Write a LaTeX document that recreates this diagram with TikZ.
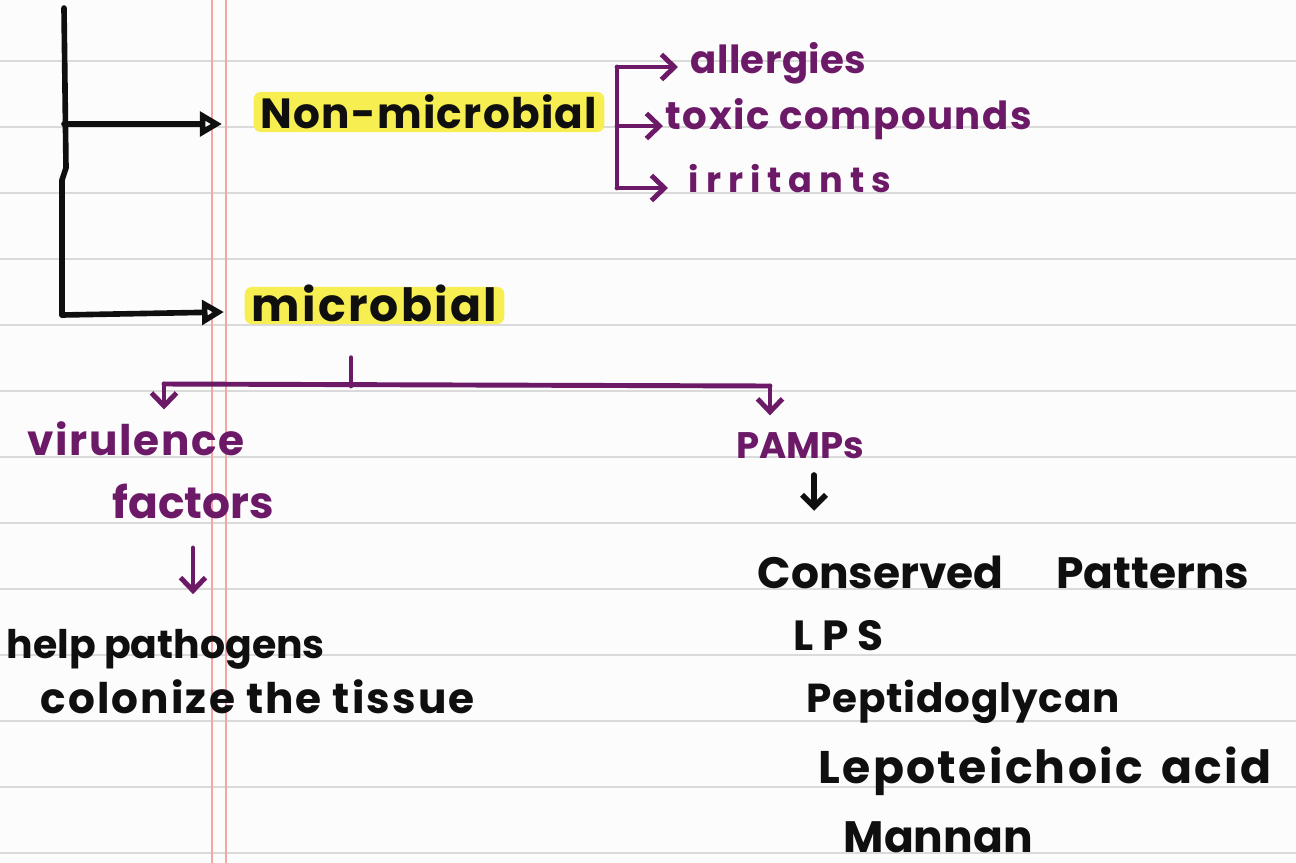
\documentclass[tikz,border=0pt]{standalone}
\usepackage{fontspec}
\setmainfont{Poppins}
\usetikzlibrary{arrows.meta}
\definecolor{ink}{RGB}{15,15,15}
\definecolor{plum}{RGB}{108,26,104}
\definecolor{marker}{RGB}{247,238,82}
\definecolor{ruling}{RGB}{218,218,218}
\definecolor{margin}{RGB}{246,165,165}
\definecolor{paper}{RGB}{252,252,252}
\newcommand{\hand}[2][0]{\fontsize{#2}{#2}\selectfont\bfseries\addfontfeature{LetterSpace=#1}}
\tikzset{
  word/.style    = {anchor=base west, inner sep=0pt, text=ink},
  pword/.style   = {word, text=plum},
  hl/.style      = {word, fill=marker, rounded corners=2pt, inner xsep=0.07cm, inner ysep=0pt},
  bline/.style   = {draw=ink, line width=1.6pt, line cap=round, line join=round},
  pline/.style   = {draw=plum, line width=1.4pt, line cap=round, line join=round},
  bsig/.style    = {bline, -{Triangle[open, length=0.22cm, width=0.24cm]}},
  bsig2/.style   = {bline, -{Straight Barb[length=0.12cm, width=0.24cm]}},
  psig/.style    = {pline, -{Straight Barb[length=0.13cm, width=0.25cm]}},
}
\begin{document}
\begin{tikzpicture}[x=0.01cm,y=-0.01cm]
\fill[paper] (0,0) rectangle (1296,863);
\useasboundingbox (0,0) rectangle (1296,863);
\foreach \k in {0,...,12}
  \draw[ruling, line width=0.8pt] (0,{61+66*\k}) -- (1296,{61+66*\k});
\draw[margin, line width=0.5pt] (212,0) -- (212,863);
\draw[margin, line width=0.5pt] (226,0) -- (226,863);

\node[hl, text height=0.36cm, text depth=0.04cm, font={\hand[3]{12}}] (nonmic) at (253,128) {Non-microbial};
\node[hl, text height=0.34cm, text depth=0.03cm, font={\hand[5]{13}}] (mic) at (244,321) {microbial};

\node[pword, font={\hand[1]{11}}] (allerg) at (690,73) {allergies};
\node[pword, font={\hand[4]{11}}] (toxic) at (665,129) {toxic compounds};
\node[pword, font={\hand[20]{10}}] (irrit) at (688,192) {irritants};

\node[pword, font={\hand[4]{12}}] (vir) at (27,455) {virulence};
\node[pword, font={\hand{12.5}}] (fact) at (112,518) {factors};
\node[word, font={\hand{11.2}}] (help) at (6,658) {help pathogens};
\node[word, font={\hand[5]{12}}] (colon) at (40,713) {colonize the tissue};

\node[pword, font={\hand{10.5}}] (pamps) at (736,458) {PAMPs};
\node[word, font={\hand{12.5}}] (cons) at (757,588) {Conserved\hspace{1.2em}Patterns};
\node[word, font={\hand[20]{12}}] (lps) at (793,650) {LPS};
\node[word, font={\hand[2]{11.5}}] (pept) at (806,712) {Peptidoglycan};
\node[word, font={\hand[5]{13}}] (lepo) at (818,783) {Lepoteichoic\hspace{0.4em}acid};
\node[word, font={\hand{12.5}}] (mann) at (843,852) {Mannan};

\coordinate (spine) at (64,8);
\coordinate (knee) at (62,315);
\coordinate (nonin) at (222,124);
\coordinate (micin) at (224,312);
\draw[bline] (spine) -- (66,168) -- (62,180) -- (knee);
\draw[bsig] (spine |- nonin) -- (nonin);
\draw[bsig] (knee) -- (micin);

\coordinate (ptop) at (617,67);
\coordinate (pmid) at (617,126);
\coordinate (pbot) at (617,188);
\draw[pline] (ptop) -- (pbot);
\draw[psig, shorten >=0.12cm] (ptop) -- (ptop -| allerg.west);
\draw[psig, shorten >=0.02cm] (pmid) -- (pmid -| toxic.west);
\draw[psig, shorten >=0.2cm] (pbot) -- (pbot -| irrit.west);

\coordinate (fork) at (351,386);
\coordinate (lfork) at (164,384);
\coordinate (rfork) at (770,386);
\draw[pline, shorten <=0.33cm] (fork |- mic.south) -- (fork);
\draw[pline] (lfork) -- (rfork);
\draw[psig, shorten >=0.11cm] (lfork) -- (lfork |- vir.north);
\draw[psig, shorten >=0.16cm] (rfork) -- (rfork |- pamps.north);

\coordinate (vtail) at (193,548);
\draw[psig, shorten >=0.34cm] (vtail) -- (vtail |- help.north);
\coordinate (ptail) at (814,475);
\draw[bsig2, shorten >=0.44cm] (ptail) -- (ptail |- cons.north);
\end{tikzpicture}
\end{document}
